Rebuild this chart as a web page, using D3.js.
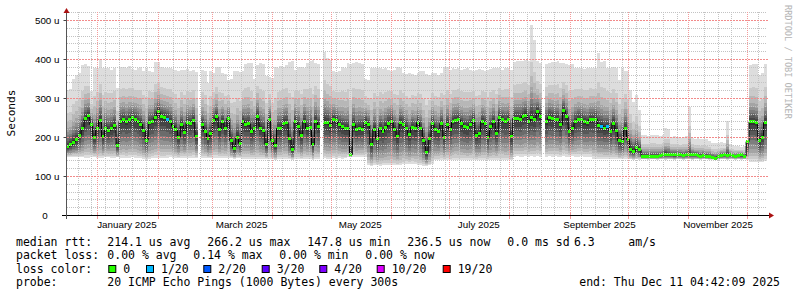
<!DOCTYPE html>
<html lang="en">
<head>
<meta charset="UTF-8">
<title>Smokeping - last 360 days</title>
<script src="https://d3js.org/d3.v7.min.js"></script>
<style>
  body { margin: 0; background: #fff; overflow: hidden; }
  svg { display: block; font-family: "DejaVu Sans Mono", monospace; }
  .tick-label { font-size: 9.8px; fill: #000; }
  .legend { font-size: 11.5px; fill: #000; }
</style>
</head>
<body>
<svg id="chart" width="797" height="297"></svg>
<script>
// ---- values (microseconds, one column = 1.5 days) ----
const endTime = new Date(Date.UTC(2025, 11, 11, 4, 42, 9));
const spanDays = 360;
const stepDays = 1.5;

const median = [
  175,180,187,193,204,222,248,254,232,199,
  222,242,201,222,216,222,230,177,240,245,
  239,244,250,246,240,233,216,192,238,240,
  251,265,252,250,246,240,228,220,200,231,
  212,237,235,242,201,null,231,215,197,208,
  242,252,220,239,222,248,190,171,200,184,
  239,232,234,214,222,252,222,216,181,244,
  191,178,222,222,235,237,195,167,240,228,
  204,240,222,224,180,240,228,null,238,237,
  230,244,242,232,226,222,222,155,232,218,
  222,220,238,231,180,220,196,222,214,225,
  235,240,220,201,236,233,222,206,225,221,
  237,222,190,160,196,235,218,214,235,200,
  233,220,240,242,244,234,226,224,232,242,
  205,209,239,234,200,226,239,210,250,244,
  240,244,201,248,247,246,252,256,240,250,
  246,265,252,null,239,250,248,244,245,231,
  268,252,215,222,240,246,245,239,236,244,
  245,246,230,228,222,226,215,235,217,190,
  188,222,194,168,162,173,167,150,150,151,
  151,150,151,152,154,156,155,154,154,155,
  154,153,154,154,155,154,153,151,152,151,
  150,148,145,150,153,154,153,154,152,151,
  153,154,151,188,239,239,236,192,200,237
];

const smokeHigh = [
  320,322,348,359,365,384,387,382,318,378,
  378,400,378,378,376,372,376,325,380,380,
  378,382,374,372,376,380,370,376,370,366,
  392,393,380,376,376,378,374,372,368,372,
  372,374,370,372,366,null,372,370,338,368,
  365,380,380,363,362,346,350,368,368,366,
  370,386,389,389,350,385,389,388,356,355,
  352,380,378,382,380,384,393,395,372,380,
  380,378,390,395,397,390,386,null,419,402,
  397,368,366,370,380,378,389,386,390,392,
  389,388,350,345,376,376,378,376,374,376,
  372,370,372,380,378,365,362,364,362,360,
  365,368,368,362,359,363,363,360,365,380,
  380,372,376,374,376,372,374,376,372,370,
  372,374,372,370,372,374,376,378,376,372,
  378,376,372,392,394,396,394,398,395,487,
  449,395,390,null,386,390,392,393,395,390,
  389,388,385,388,378,376,376,374,376,378,
  376,376,415,393,395,378,376,380,378,346,
  376,370,368,320,290,308,269,205,205,203,
  205,206,204,202,205,222,220,200,202,200,
  198,200,202,278,198,196,197,195,196,194,
  190,185,184,184,186,185,240,181,180,178,
  176,175,176,175,385,388,386,360,363,388
];

const smokeLow = [
  150,150,150,149,148,148,147,147,148,148,
  147,146,147,148,148,147,146,148,147,147,
  146,147,148,147,146,145,144,142,144,146,
  147,147,146,146,147,148,147,146,145,146,
  147,147,146,147,146,null,147,146,145,146,
  147,147,146,146,147,146,145,144,145,146,
  144,144,143,144,144,143,144,144,143,144,
  143,142,144,144,143,144,143,142,144,144,
  143,144,144,143,142,144,144,null,145,144,
  144,145,144,145,144,145,149,148,150,150,
  150,150,150,127,126,127,127,126,127,128,
  127,127,128,127,127,131,132,131,132,131,
  128,128,126,125,127,132,140,140,141,140,
  141,140,140,141,140,140,141,140,140,141,
  140,141,140,140,141,140,140,141,140,141,
  141,140,141,150,151,150,150,151,150,151,
  150,151,150,null,150,151,150,151,150,150,
  151,150,150,151,150,150,151,150,150,150,
  144,144,143,144,144,143,144,144,143,143,
  144,143,143,143,142,143,142,143,143,142,
  143,143,142,143,143,142,143,143,142,143,
  143,142,143,143,142,143,143,142,143,143,
  142,142,140,142,143,143,142,143,143,142,
  143,142,143,142,137,137,137,136,137,138
];

// columns where 1 of 20 pings was lost
const loss1Cols = [34, 183, 185];

const yTicks = [0, 100, 200, 300, 400, 500];
const lossLabels = ["0", "1/20", "2/20", "3/20", "4/20", "10/20", "19/20"];
const lossColors = ["#26ff00", "#00b8ff", "#0059ff", "#5e00ff", "#7e00ff", "#dd00ff", "#ff0000"];

const statsRtt = ["214.1 us avg", "266.2 us max", "147.8 us min", "236.5 us now", "0.0 ms sd", "6.3", "am/s"];
const statsLoss = ["0.00 % avg", "0.14 % max", "0.00 % min", "0.00 % now"];
const probeText = "20 ICMP Echo Pings (1000 Bytes) every 300s";
const endText = "end: Thu Dec 11 04:42:09 2025";

// ---- layout ----
const DAY = 86400000;
const startTime = new Date(endTime.getTime() - spanDays * DAY);
const plot = { left: 66.5, right: 766.5, top: 12, bottom: 215 };

const svg = d3.select("#chart");

const x = d3.scaleUtc().domain([startTime, endTime]).range([plot.left, plot.right]);
const y = d3.scaleLinear().domain([0, 500]).range([215, 20]);

const colTime = i => new Date(startTime.getTime() + i * stepDays * DAY);

// smoke: pairs of ping ranks from the outside in, lighter to darker
// (fractions of the distance from the median to the high / low edge)
const upFrac = [1, 0.60, 0.45, 0.33, 0.26, 0.20, 0.15, 0.11, 0.07, 0.03];
const dnFrac = [1, 0.94, 0.86, 0.78, 0.68, 0.57, 0.46, 0.34, 0.22, 0.08];
const smokeColor = k => { const c = Math.floor(190 / 10 * (10 - k)) + 50; return d3.rgb(c, c, c).formatHex(); };

const smoke = svg.append("g").attr("shape-rendering", "crispEdges");
median.forEach((m, i) => {
  if (m == null) return;
  const x0 = x(colTime(i)), x1 = x(colTime(i + 1));
  const hi = smokeHigh[i], lo = smokeLow[i];
  for (let k = 1; k <= 10; k++) {
    const top = m + (hi - m) * upFrac[k - 1];
    const bot = m - (m - lo) * dnFrac[k - 1];
    smoke.append("rect")
      .attr("x", x0).attr("width", x1 - x0)
      .attr("y", y(top)).attr("height", y(bot) - y(top))
      .attr("fill", smokeColor(k));
  }
});

// median: thin black stair line, then loss coloured marks
const pts = [];
median.forEach((m, i) => {
  pts.push({ t: colTime(i), v: m });
  pts.push({ t: colTime(i + 1), v: m });
});
svg.append("path")
  .datum(pts)
  .attr("fill", "none")
  .attr("stroke", "#000")
  .attr("stroke-width", 1)
  .attr("d", d3.line().defined(d => d.v != null).x(d => x(d.t)).y(d => y(d.v)).curve(d3.curveStepAfter));

svg.append("g").attr("shape-rendering", "crispEdges")
  .selectAll("rect")
  .data(median.map((v, i) => ({ v, i })).filter(d => d.v != null))
  .join("rect")
  .attr("x", d => x(colTime(d.i)))
  .attr("width", d => x(colTime(d.i + 1)) - x(colTime(d.i)))
  .attr("y", d => y(d.v) - 1.5)
  .attr("height", 3)
  .attr("fill", d => loss1Cols.includes(d.i) ? lossColors[1] : lossColors[0]);

// grid (drawn over the data, like rrdtool): small pixel dashes
const grid = svg.append("g").attr("shape-rendering", "crispEdges");
const minorColor = "#c3c3c3";
const majorColorH = "#f28a8a";
const majorColorV = "#f49a9a";
const minorY = d3.range(20, 521, 20).filter(v => v % 100 !== 0);
const months = d3.utcMonth.range(startTime, endTime);
const weeks = d3.utcSunday.range(startTime, endTime)
  .filter(w => !months.some(m => Math.abs(x(m) - x(w)) < 2));

function dotsH(py, on, period) {
  let d = "";
  for (let px = 67; px < 767; px += period) d += `M${px},${py}h${on}v1h-${on}z`;
  return d;
}
function dotsV(px) {
  let d = "";
  for (let py = 12; py < 215; py += 2) d += `M${px},${py}h1v1h-1z`;
  return d;
}
function hLines(values, color, on, period) {
  grid.append("g").selectAll("path").data(values).join("path")
    .attr("d", d => dotsH(Math.round(y(d)), on, period))
    .attr("fill", color);
}
function vLines(dates, color) {
  grid.append("g").selectAll("path").data(dates).join("path")
    .attr("d", d => dotsV(Math.round(x(d))))
    .attr("fill", color);
}
hLines(minorY, minorColor, 1, 2);
vLines(weeks, minorColor);
hLines(yTicks.slice(1), majorColorH, 2, 3);
vLines(months, majorColorV);

// y axis
const yAxis = svg.append("g")
  .attr("transform", `translate(${plot.left},0)`)
  .call(d3.axisLeft(y).tickValues(yTicks).tickSize(3).tickPadding(4)
    .tickFormat(d => d === 0 ? "0" : d + " u"));
yAxis.select(".domain").remove();
yAxis.selectAll("line").attr("stroke", "#444");
yAxis.selectAll("text").attr("class", "tick-label")
  .attr("dx", d => d === 0 ? -11.7 : 0).attr("dy", "0.34em");

// x axis: labels centred on the month, every second month
const labelMonths = d3.utcMonth.every(2).range(new Date(Date.UTC(2025, 0, 1)), endTime);
const xAxis = svg.append("g")
  .attr("transform", `translate(0,${plot.bottom})`)
  .call(d3.axisBottom(x)
    .tickValues(labelMonths.map(m => d3.utcDay.offset(m, 15)))
    .tickSize(0).tickPadding(6)
    .tickFormat(d3.utcFormat("%B %Y")));
xAxis.select(".domain").remove();
xAxis.selectAll("text").attr("class", "tick-label").attr("dy", "0.75em");

// month ticks across the time axis
svg.append("g").selectAll("line").data(months).join("line")
  .attr("x1", d => Math.round(x(d)) + 0.5).attr("x2", d => Math.round(x(d)) + 0.5)
  .attr("y1", 213).attr("y2", 219)
  .attr("stroke", majorColorV);

// axis lines with arrows
svg.append("line").attr("x1", 62).attr("x2", 769).attr("y1", 215.5).attr("y2", 215.5)
  .attr("stroke", "#000");
svg.append("line").attr("x1", 66.5).attr("x2", 66.5).attr("y1", 219).attr("y2", 12)
  .attr("stroke", "#555");
svg.append("path").attr("d", "M769,212.5 L774,215.5 L769,218.5 Z").attr("fill", "#a11");
svg.append("path").attr("d", "M63.5,13 L66.5,8 L69.5,13 Z").attr("fill", "#a11");

// axis title and watermark
svg.append("text")
  .attr("transform", "translate(11,113) rotate(-90)")
  .attr("text-anchor", "middle").attr("dominant-baseline", "central")
  .style("font-size", "11.1px").text("Seconds");
svg.append("text")
  .attr("transform", "translate(784.5,5) rotate(90)")
  .style("font-size", "8.6px").attr("fill", "#b4b4b4")
  .text("RRDTOOL / TOBI OETIKER");

// legend
const leg = svg.append("g").attr("class", "legend");
const rttX = [107.3, 207.3, 307.3, 407.3, 507.3, 574, 628.3];
leg.append("text").attr("x", 16).attr("y", 245.5).text("median rtt:");
statsRtt.forEach((s, i) => leg.append("text").attr("x", rttX[i]).attr("y", 245.5).text(s));

const lossX = [107.3, 193.3, 279.3, 365.3];
leg.append("text").attr("x", 16).attr("y", 259).text("packet loss:");
statsLoss.forEach((s, i) => leg.append("text").attr("x", lossX[i]).attr("y", 259).text(s));

const boxX = [108.3, 146, 203.3, 261.7, 319.3, 376.7, 442.7];
leg.append("text").attr("x", 16).attr("y", 272.5).text("loss color:");
lossLabels.forEach((s, i) => {
  leg.append("rect").attr("x", boxX[i] + 0.5).attr("y", 265.5).attr("width", 7).attr("height", 7)
    .attr("fill", lossColors[i]).attr("stroke", "#000").attr("stroke-width", 1);
  leg.append("text").attr("x", boxX[i] + 15).attr("y", 272.5).text(s);
});

leg.append("text").attr("x", 16).attr("y", 286).text("probe:");
leg.append("text").attr("x", 107.3).attr("y", 286).text(probeText);
leg.append("text").attr("x", 780).attr("y", 286).attr("text-anchor", "end").text(endText);
</script>
</body>
</html>
